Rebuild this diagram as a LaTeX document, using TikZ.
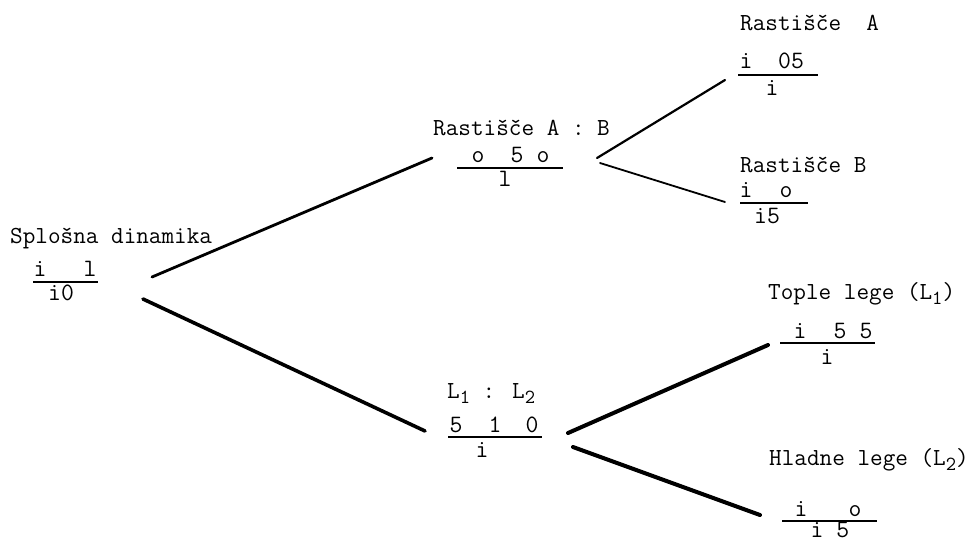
\documentclass[tikz,border=0pt]{standalone}
\usepackage{fontspec}
\newcommand\lsub[1]{\raisebox{-5pt}{\fontsize{20}{22}\selectfont #1}}
\begin{document}
\begin{tikzpicture}[x=1pt,y=-1pt,
  lab/.style={inner sep=0pt, anchor=base west, font=\ttfamily\fontsize{24.5}{27}\selectfont},
  num/.style={inner sep=0pt, anchor=base, font=\ttfamily\fontsize{25}{27}\selectfont},
  bar/.style={line width=1.6pt},
  branch/.style={line cap=round}]
\useasboundingbox (0,0) rectangle (973,542);

% Splosna dinamika
\node[lab] (sdl) at (10,243) {Splošna dinamika};
\node[num] (sdn1) at (40,276) {i};
\node[num] (sdn2) at (90,276) {l};
\coordinate (sdb1) at (33,282); \coordinate (sdb2) at (98,282);
\draw[bar] (sdb1) -- (sdb2);
\node[num] (sdd) at (61,300) {i0};

% Rastisce A : B
\node[lab] (abl) at (433,135) {Rastišče A : B};
\node[num] (abn1) at (478,162) {o};
\node[num] (abn2) at (517,162) {5};
\node[num] (abn3) at (543,162) {o};
\coordinate (abb1) at (457,168); \coordinate (abb2) at (563,168);
\draw[bar] (abb1) -- (abb2);
\node[num] (abd) at (505,186) {l};

% Rastisce A
\node[lab] (al) at (740,30) {Rastišče\ \ A};
\node[num] (an1) at (746,68) {i};
\node[num] (an2) at (791,68) {05};
\coordinate (ab1) at (738,75); \coordinate (ab2) at (818,75);
\draw[bar] (ab1) -- (ab2);
\node[num] (ad) at (772,95) {i};

% Rastisce B
\node[lab] (bl) at (740,172) {Rastišče B};
\node[num] (bn1) at (746,197) {i};
\node[num] (bn2) at (786,197) {o};
\coordinate (bb1) at (740,203); \coordinate (bb2) at (808,203);
\draw[bar] (bb1) -- (bb2);
\node[num] (bd) at (767,223) {i5};

% L1 : L2
\node[lab] (ll) at (447,398) {L\lsub{1} : L\lsub{2}};
\node[num] (ln1) at (456,432) {5};
\node[num] (ln2) at (495,432) {1};
\node[num] (ln3) at (532,432) {0};
\coordinate (lb1) at (448,437); \coordinate (lb2) at (542,437);
\draw[bar] (lb1) -- (lb2);
\node[num] (ld) at (482,457) {i};

% Tople lege
\node[lab] (tl) at (768,299) {Tople lege (L\lsub{1})};
\node[num] (tn1) at (800,338) {i};
\node[num] (tn2) at (840,338) {5};
\node[num] (tn3) at (866,338) {5};
\coordinate (tb1) at (780,343); \coordinate (tb2) at (875,343);
\draw[bar] (tb1) -- (tb2);
\node[num] (td) at (827,364) {i};

% Hladne lege
\node[lab] (hl) at (769,465) {Hladne lege (L\lsub{2})};
\node[num] (hn1) at (801,516) {i};
\node[num] (hn2) at (855,516) {o};
\coordinate (hb1) at (782,521); \coordinate (hb2) at (877,521);
\draw[bar] (hb1) -- (hb2);
\node[num] (hd) at (830,537) {i 5};

% branches
\coordinate (s1) at (152,277); \coordinate (e1) at (432,158);
\coordinate (s2) at (143,299); \coordinate (e2) at (425,431);
\coordinate (s3) at (597,158); \coordinate (e3) at (725,80);
\coordinate (s4) at (600,163); \coordinate (e4) at (725,202);
\coordinate (s5) at (568,433); \coordinate (e5) at (768,345);
\coordinate (s6) at (573,447); \coordinate (e6) at (760,515);
\draw[branch, line width=2.8pt] (s1) -- (e1);
\draw[branch, line width=3.6pt] (s2) -- (e2);
\draw[branch, line width=2.2pt] (s3) -- (e3);
\draw[branch, line width=1.8pt] (s4) -- (e4);
\draw[branch, line width=4pt] (s5) -- (e5);
\draw[branch, line width=4pt] (s6) -- (e6);
\end{tikzpicture}
\end{document}
